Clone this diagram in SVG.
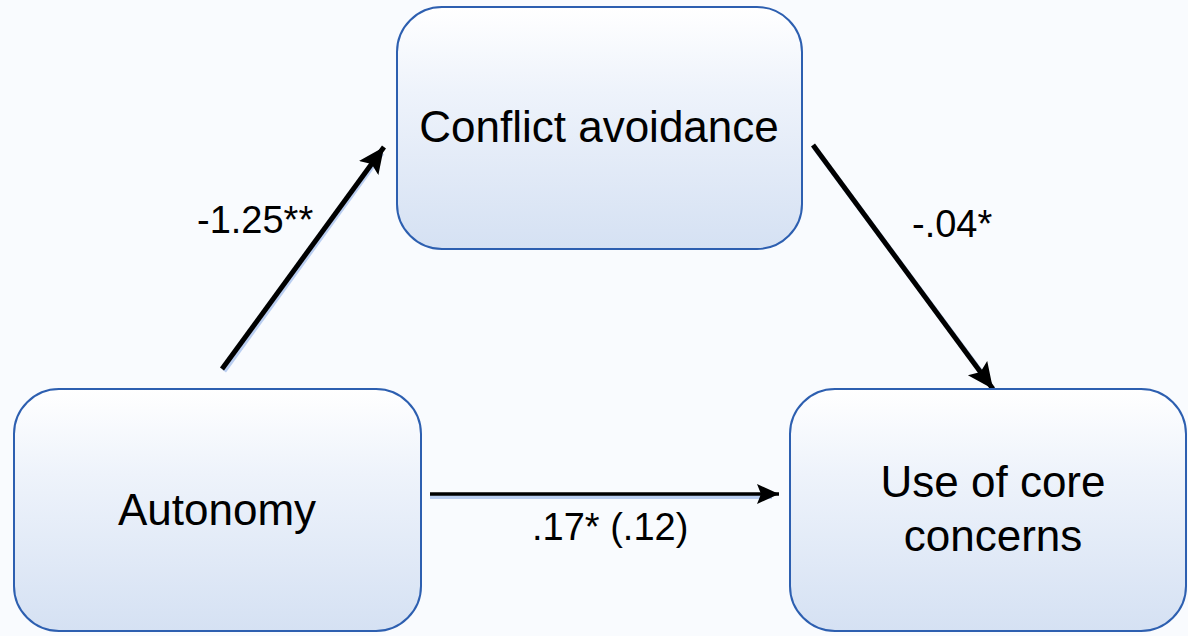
<svg xmlns="http://www.w3.org/2000/svg" width="1188" height="636" viewBox="0 0 1188 636">
<defs>
<linearGradient id="boxFill" x1="0" y1="0" x2="0" y2="1">
<stop offset="0" stop-color="#ffffff"/>
<stop offset="0.35" stop-color="#eef3fb"/>
<stop offset="1" stop-color="#d5e1f3"/>
</linearGradient>
<marker id="head" markerUnits="userSpaceOnUse" markerWidth="28" markerHeight="26" refX="26" refY="13" orient="auto">
<path d="M0,1 L26,13 L0,25 L5,13 Z" fill="#000"/>
</marker>
<marker id="headSmall" markerUnits="userSpaceOnUse" markerWidth="24" markerHeight="22" refX="22" refY="11" orient="auto">
<path d="M0,1 L22,11 L0,21 L4,11 Z" fill="#000"/>
</marker>
</defs>
<style>
.box{fill:url(#boxFill);stroke:#2d5fb0;stroke-width:2}
.lbl{font-family:"Liberation Sans",Arial,sans-serif;font-size:44px;fill:#000;text-anchor:middle}
.coef{font-family:"Liberation Sans",Arial,sans-serif;font-size:38px;fill:#000}
.arr{stroke:#000;stroke-width:5;fill:none}
.shadow{stroke:#a9c2ec;stroke-width:5;fill:none;opacity:0.8}
</style>
<rect width="1188" height="636" fill="#f9fbfe"/>
<g id="connectors">
<line class="shadow" x1="224" y1="371" x2="382" y2="153"/>
<line class="shadow" x1="815" y1="148" x2="990" y2="384"/>
<line class="shadow" x1="430" y1="497" x2="772" y2="497" style="stroke-width:4"/>
<line class="arr" x1="222" y1="369" x2="384" y2="147" marker-end="url(#head)"/>
<line class="arr" x1="813" y1="145" x2="993" y2="389" marker-end="url(#head)"/>
<line class="arr" x1="430" y1="494" x2="779" y2="494" style="stroke-width:3.5" marker-end="url(#headSmall)"/>
<text class="coef" x="197" y="233">-1.25**</text>
<text class="coef" x="912" y="237">-.04*</text>
<text class="coef" x="532" y="540">.17* (.12)</text>
</g>
<g id="conflict">
<rect class="box" x="397" y="7" width="405" height="242" rx="45" ry="45"/>
<text class="lbl" x="599" y="142">Conflict avoidance</text>
</g>
<g id="autonomy">
<rect class="box" x="14" y="389" width="407" height="242" rx="45" ry="45"/>
<text class="lbl" x="217" y="525">Autonomy</text>
</g>
<g id="core">
<rect class="box" x="790" y="389" width="396" height="242" rx="45" ry="45"/>
<text class="lbl" x="993" y="497">Use of core</text>
<text class="lbl" x="993" y="551">concerns</text>
</g>
</svg>
